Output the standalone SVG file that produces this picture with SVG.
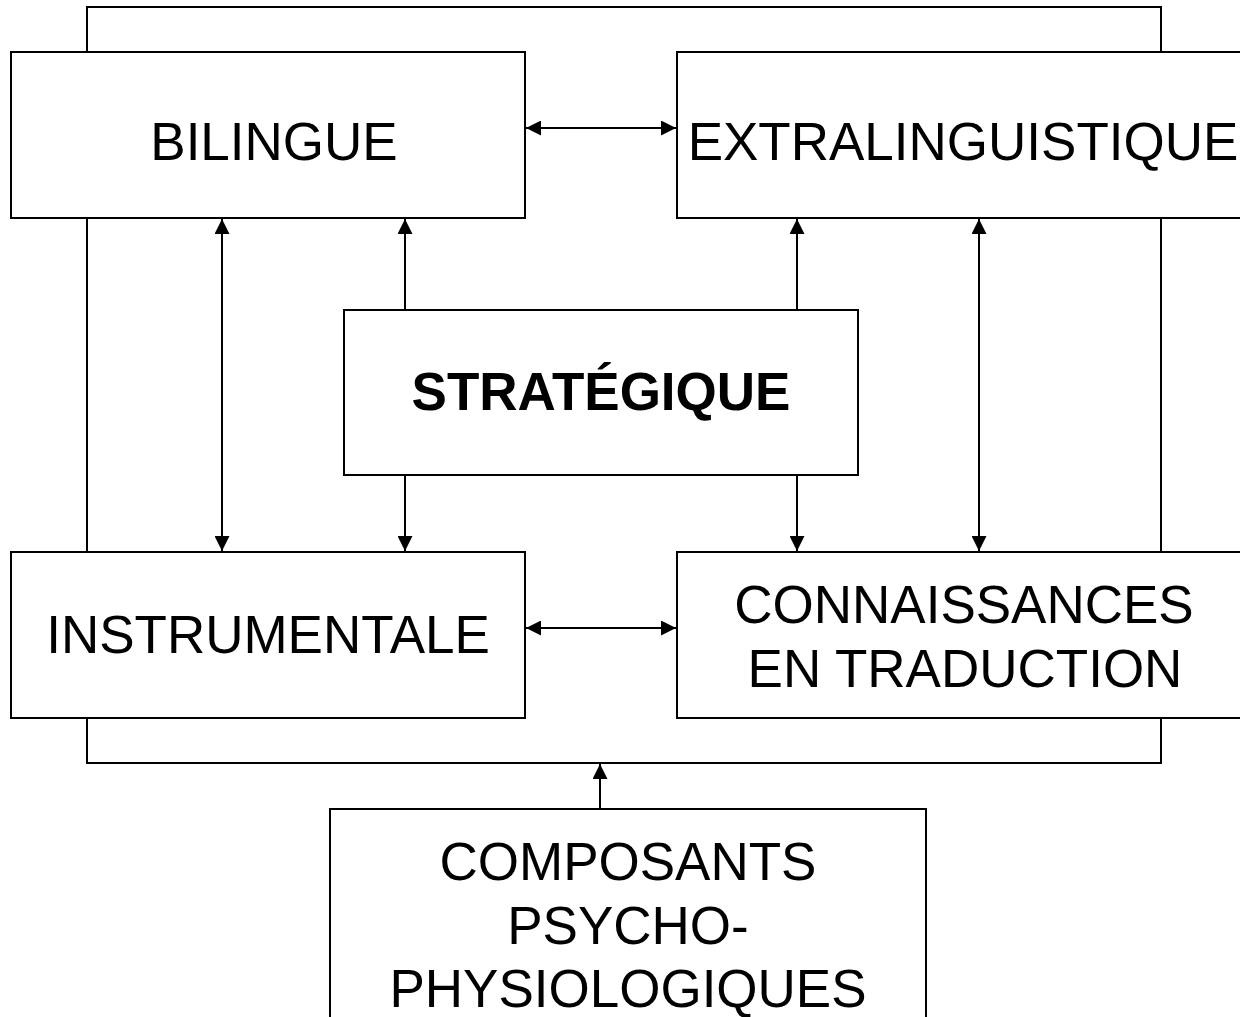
<svg xmlns="http://www.w3.org/2000/svg" width="1240" height="1017" viewBox="0 0 1240 1017">
<style>
.box{fill:#fff;stroke:#000;stroke-width:2}
.ln{fill:none;stroke:#000;stroke-width:2}
.t{font-family:"Liberation Sans",Arial,sans-serif;font-size:53px;fill:#000;text-anchor:middle}
.b{font-weight:bold}
</style>
<defs>
<marker id="ah" markerUnits="userSpaceOnUse" markerWidth="16" markerHeight="15" refX="15" refY="7.5" orient="auto-start-reverse" viewBox="0 0 16 15">
<path d="M0,0 L15,7.5 L0,15 Z" fill="#000"/>
</marker>
</defs>
<rect width="1240" height="1017" fill="#fff"/>
<g id="connectors">
<path class="ln" d="M87,52 V7 H1161 V52"/>
<path class="ln" d="M87,218 V552"/>
<path class="ln" d="M1161,218 V552"/>
<path class="ln" d="M87,718 V763 H1161 V718"/>
<line class="ln" x1="526" y1="128" x2="676" y2="128" marker-start="url(#ah)" marker-end="url(#ah)"/>
<line class="ln" x1="526" y1="628" x2="676" y2="628" marker-start="url(#ah)" marker-end="url(#ah)"/>
<line class="ln" x1="222" y1="219" x2="222" y2="551" marker-start="url(#ah)" marker-end="url(#ah)"/>
<line class="ln" x1="979" y1="219" x2="979" y2="551" marker-start="url(#ah)" marker-end="url(#ah)"/>
<line class="ln" x1="405" y1="310" x2="405" y2="219" marker-end="url(#ah)"/>
<line class="ln" x1="405" y1="475" x2="405" y2="551" marker-end="url(#ah)"/>
<line class="ln" x1="797" y1="310" x2="797" y2="219" marker-end="url(#ah)"/>
<line class="ln" x1="797" y1="475" x2="797" y2="551" marker-end="url(#ah)"/>
<line class="ln" x1="600" y1="825" x2="600" y2="764" marker-end="url(#ah)"/>
</g>
<g id="bilingue">
<rect class="box" x="11" y="52" width="514" height="166"/>
<text class="t" x="274" y="160">BILINGUE</text>
</g>
<g id="extralinguistique">
<rect class="box" x="677" y="52" width="580" height="166"/>
<text class="t" x="963" y="160">EXTRALINGUISTIQUE</text>
</g>
<g id="strategique">
<rect class="box" x="344" y="310" width="514" height="165"/>
<text class="t b" x="601" y="410">STRATÉGIQUE</text>
</g>
<g id="instrumentale">
<rect class="box" x="11" y="552" width="514" height="166"/>
<text class="t" x="268" y="653">INSTRUMENTALE</text>
</g>
<g id="connaissances">
<rect class="box" x="677" y="552" width="580" height="166"/>
<text class="t" x="964" y="623">CONNAISSANCES</text>
<text class="t" x="965" y="687">EN TRADUCTION</text>
</g>
<g id="composants">
<rect class="box" x="330" y="809" width="596" height="230"/>
<text class="t" x="628" y="880">COMPOSANTS</text>
<text class="t" x="628" y="944">PSYCHO-</text>
<text class="t" x="628" y="1007">PHYSIOLOGIQUES</text>
</g>
</svg>
